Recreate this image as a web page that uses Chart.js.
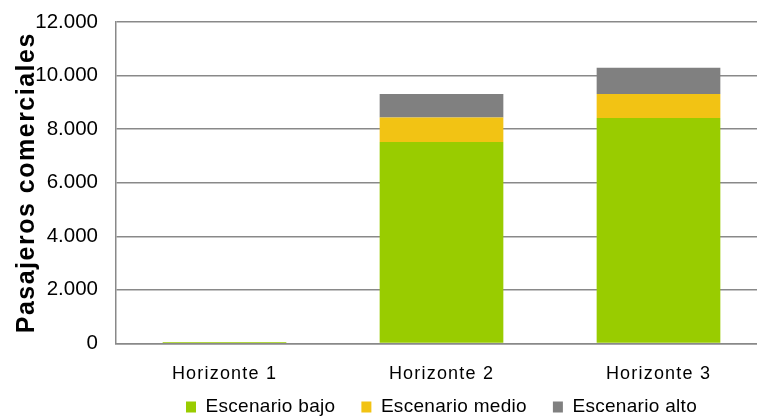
<!DOCTYPE html>
<html>
<head>
<meta charset="utf-8">
<script src="https://cdn.jsdelivr.net/npm/chart.js@4/dist/chart.umd.min.js"></script>
<style>
  html, body { margin: 0; padding: 0; background: #fff; overflow: hidden; }
  #wrap { width: 757px; height: 417px; overflow: hidden; position: relative; }
  canvas { display: block; }
</style>
</head>
<body>
<div id="wrap"><canvas id="c" width="767" height="417"></canvas></div>
<script>
const categories = ['Horizonte 1', 'Horizonte 2', 'Horizonte 3'];
const escenarioBajo = [50, 7520, 8420];
const escenarioMedio = [0, 910, 895];
const escenarioAlto = [0, 880, 980];
const yTickValues = [0, 2000, 4000, 6000, 8000, 10000, 12000];
const yTickLabels = ['0', '2.000', '4.000', '6.000', '8.000', '10.000', '12.000'];
const seriesNames = ['Escenario bajo', 'Escenario medio', 'Escenario alto'];

const FONT = '"Liberation Sans", Arial, sans-serif';
const GRID = '#898989';

function wrapSpacing(obj, method, spacing) {
  const key = '_wrapped_' + method;
  if (obj[key]) return;
  const orig = obj[method];
  obj[method] = function (...args) {
    const ctx = this.ctx || obj.ctx;
    const prev = ctx.letterSpacing;
    ctx.letterSpacing = spacing;
    const r = orig.apply(this, args);
    ctx.letterSpacing = prev;
    return r;
  };
  obj[key] = true;
}

const layoutPlugin = {
  id: 'layoutTweaks',
  beforeLayout(chart) {
    chart.ctx.letterSpacing = '0px';
    const lg = chart.legend;
    if (lg && !lg._fitWrapped) {
      const of = lg.fit;
      lg.fit = function () {
        const prev = this.ctx.letterSpacing;
        this.ctx.letterSpacing = '0.3px';
        of.call(this);
        this.ctx.letterSpacing = prev;
        this.height = 12;
      };
      wrapSpacing(lg, 'draw', '0.3px');
      lg._fitWrapped = true;
    }
  },
  beforeDraw(chart) {
    chart.ctx.letterSpacing = '0px';
    const y = chart.scales.y;
    const x = chart.scales.x;
    wrapSpacing(y, 'drawTitle', '1.5px');
    wrapSpacing(x, 'drawLabels', '1.2px');
    const lg = chart.legend;
    const ca = chart.chartArea;
    lg.left = ca.left;
    lg.right = ca.right;
    lg.width = ca.right - ca.left;
    lg.top = ca.bottom + 54 - lg.options.labels.padding;
  }
};

new Chart(document.getElementById('c'), {
  type: 'bar',
  data: {
    labels: categories,
    datasets: [
      { label: seriesNames[0], data: escenarioBajo, backgroundColor: '#99CC00' },
      { label: seriesNames[1], data: escenarioMedio, backgroundColor: '#F2C314' },
      { label: seriesNames[2], data: escenarioAlto, backgroundColor: '#808080' }
    ]
  },
  plugins: [layoutPlugin],
  options: {
    responsive: false,
    animation: false,
    events: [],
    layout: { padding: { top: 22, right: 0, left: 0, bottom: 0 } },
    datasets: { bar: { categoryPercentage: 1, barPercentage: 0.57, borderWidth: 0 } },
    scales: {
      x: {
        stacked: true,
        grid: { display: false, drawTicks: false },
        border: { display: true, color: GRID, width: 1.5 },
        ticks: { color: '#000', font: { family: FONT, size: 18 }, padding: 20 }
      },
      y: {
        stacked: true,
        min: 0,
        max: 12000,
        afterBuildTicks(scale) { scale.ticks = yTickValues.map(v => ({ value: v })); },
        afterFit(scale) { scale.width = 116; },
        grid: { color: GRID, lineWidth: 1.5, drawTicks: true, tickLength: 18, tickColor: 'rgba(0,0,0,0)' },
        border: { display: true, color: GRID, width: 1.5 },
        ticks: {
          color: '#000',
          font: { family: FONT, size: 20.5 },
          padding: 0,
          callback: (v) => yTickLabels[yTickValues.indexOf(v)]
        },
        title: {
          display: true,
          text: 'Pasajeros comerciales',
          color: '#000',
          font: { family: FONT, size: 25, weight: 'bold' },
          padding: { top: 12, bottom: 0 }
        }
      }
    },
    plugins: {
      tooltip: { enabled: false },
      legend: {
        position: 'bottom',
        labels: {
          color: '#000',
          font: { family: FONT, size: 19 },
          boxWidth: 10,
          boxHeight: 11,
          padding: 26
        }
      }
    }
  }
});
</script>
</body>
</html>
